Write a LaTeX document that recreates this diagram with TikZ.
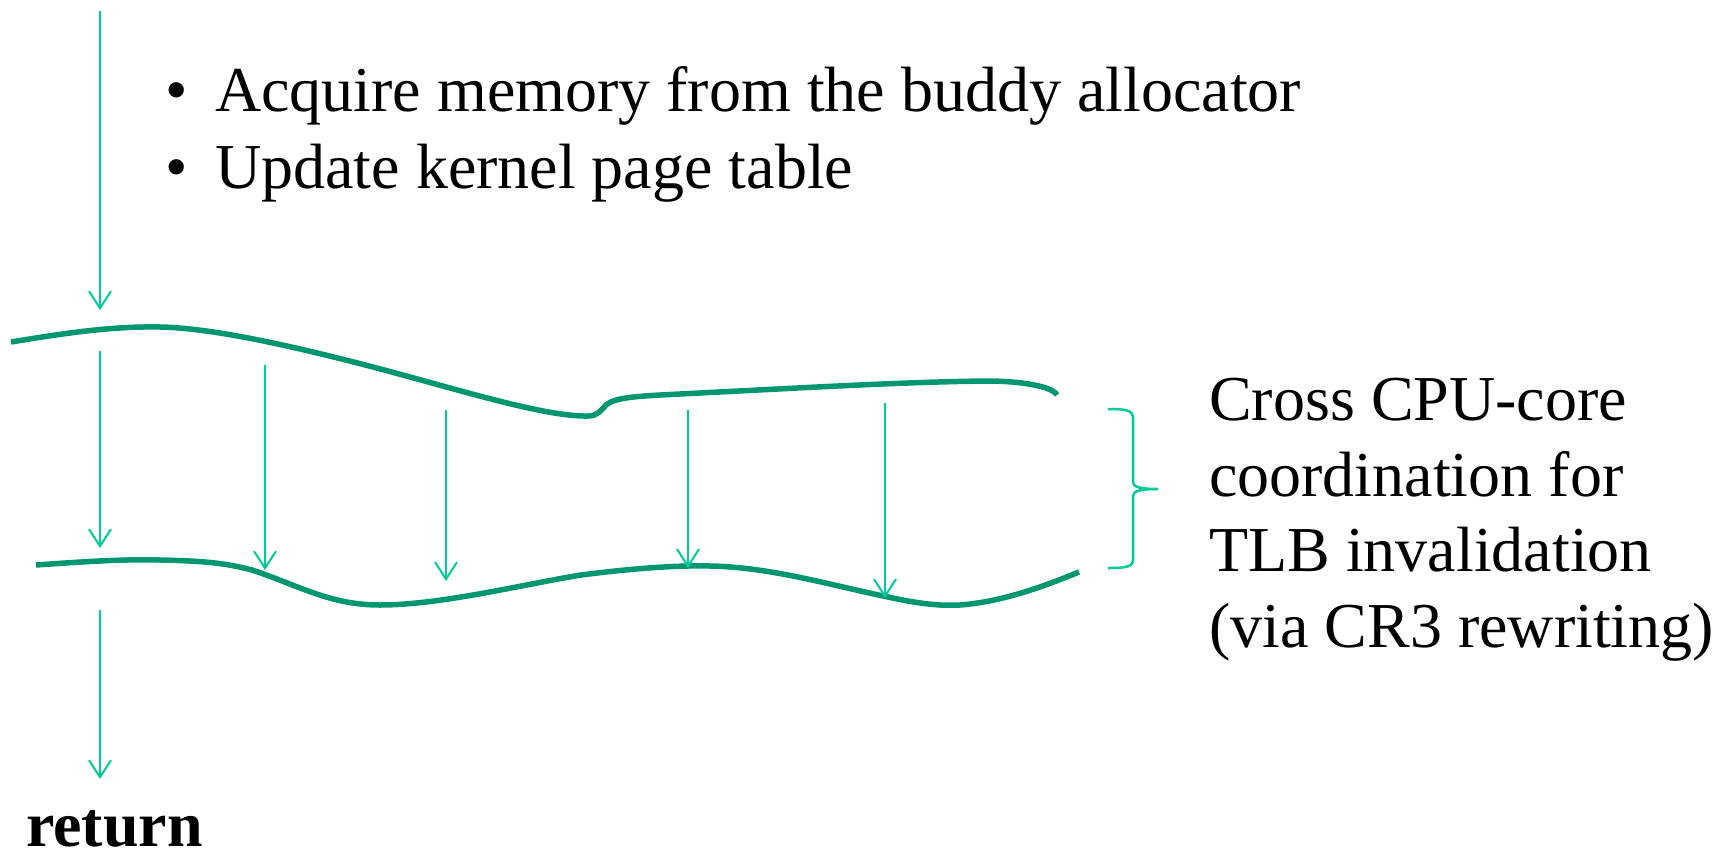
\documentclass[tikz,border=0pt]{standalone}
\usepackage{fontspec}
\setmainfont{Liberation Serif}
\usetikzlibrary{arrows.meta}
\definecolor{thinc}{RGB}{0,204,153}
\definecolor{wavec}{RGB}{0,150,112}
\tikzset{
  flow/.style={draw=thinc, line width=2pt, -{Straight Barb[length=17pt,width=22pt,line width=2pt]}},
  wave/.style={draw=wavec, line width=5.5pt},
  bracec/.style={draw=thinc, line width=2.5pt},
  txt/.style={inner sep=0pt, anchor=base west, font=\fontsize{64}{77}\selectfont},
}
\begin{document}
\begin{tikzpicture}[x=1pt,y=-1pt]
\useasboundingbox (0,0) rectangle (1718,854);

% texts
\node[inner sep=0pt, anchor=base, font=\fontsize{64}{77}\selectfont] (b1) at (177,111) {•};
\node[txt] (t1) at (215,111) {Acquire memory from the buddy allocator};
\node[inner sep=0pt, anchor=base, font=\fontsize{64}{77}\selectfont] (b2) at (177,188) {•};
\node[txt] (t2) at (215,188) {Update kernel page table};
\node[txt, font=\fontsize{64}{77}\selectfont\bfseries] (ret) at (26,846) {return};

\node[txt] (r1) at (1209,420) {Cross CPU-core};
\node[txt] (r2) at (1209,496) {coordination for};
\node[txt] (r3) at (1209,571) {TLB invalidation};
\node[txt] (r4) at (1209,647) {(via CR3 rewriting)};

% waves
\draw[wave] (11,342) .. controls (60,334) and (110,326) .. (160,327)
  .. controls (215,328) and (300,348) .. (373,367)
  .. controls (460,390) and (545,417) .. (588,416)
  .. controls (598,416) and (601,410) .. (606,405)
  .. controls (615,397) and (640,396) .. (680,394)
  .. controls (800,388) and (900,382) .. (986,381)
  .. controls (1020,381) and (1052,386) .. (1057,395);

\draw[wave] (36,565) .. controls (80,562) and (120,559) .. (160,560)
  .. controls (205,561) and (225,563) .. (252,570)
  .. controls (300,586) and (330,605) .. (380,605)
  .. controls (440,605) and (520,585) .. (581,575)
  .. controls (620,570) and (670,565) .. (710,566)
  .. controls (770,567) and (830,585) .. (888,597)
  .. controls (920,604) and (940,606) .. (960,605)
  .. controls (1000,602) and (1040,588) .. (1079,572);

% arrow end points
\coordinate (s0) at (100,11);   \coordinate (e0) at (100,310);
\coordinate (s1) at (100,351);  \coordinate (e1) at (100,548);
\coordinate (s2) at (265,365);  \coordinate (e2) at (265,570);
\coordinate (s3) at (446,410);  \coordinate (e3) at (446,581);
\coordinate (s4) at (688,410);  \coordinate (e4) at (688,568);
\coordinate (s5) at (885,403);  \coordinate (e5) at (885,598);
\coordinate (s6) at (100,610);  \coordinate (e6) at (100,779);

\draw[flow] (s0) -- (e0);
\draw[flow] (s1) -- (e1);
\draw[flow] (s2) -- (e2);
\draw[flow] (s3) -- (e3);
\draw[flow] (s4) -- (e4);
\draw[flow] (s5) -- (e5);
\draw[flow] (s6) -- (e6);

% brace
\draw[bracec] (1108,409) .. controls (1125,409) and (1133,410) .. (1133,418)
  -- (1133,482) .. controls (1133,487) and (1140,489) .. (1158,489)
  .. controls (1140,489) and (1133,491) .. (1133,496)
  -- (1133,560) .. controls (1133,567) and (1125,568) .. (1108,568);
\end{tikzpicture}
\end{document}
